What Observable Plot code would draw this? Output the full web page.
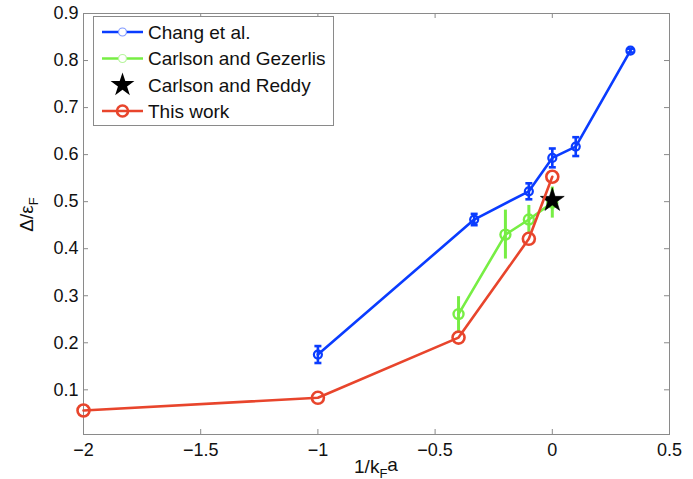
<!DOCTYPE html>
<html><head><meta charset="utf-8">
<script src="https://cdn.jsdelivr.net/npm/d3@7"></script>
<script src="https://cdn.jsdelivr.net/npm/@observablehq/plot@0.6"></script>
<style>
html,body{margin:0;padding:0;background:#fff}
svg{font-family:"Liberation Sans",Arial,Helvetica,sans-serif}
</style>
</head><body><div id="chart"></div>
<script>
// ---- data ----
const changX = [-1, -1/3, -0.1, 0, 0.1, 1/3];
const changY = [0.175, 0.462, 0.522, 0.593, 0.617, 0.821];
const changErr = [0.018, 0.012, 0.017, 0.02, 0.02, 0.004];
const gezX = [-0.4, -0.2, -0.1, 0];
const gezY = [0.261, 0.430, 0.462, 0.498];
const gezErr = [0.037, 0.052, 0.03, 0.033];
const reddyX = [0];
const reddyY = [0.503];
const workX = [-2, -1, -0.4, -0.1, 0];
const workY = [0.056, 0.083, 0.211, 0.421, 0.553];
const xTicks = [-2, -1.5, -1, -0.5, 0, 0.5];
const yTicks = [0.1, 0.2, 0.3, 0.4, 0.5, 0.6, 0.7, 0.8, 0.9];
const seriesNames = ["Chang et al.", "Carlson and Gezerlis", "Carlson and Reddy", "This work"];
const seriesColors = ["#0a3cff", "#77ee44", "#000000", "#e8452c"];

const chang = changX.map((x, i) => ({x, y: changY[i], e: changErr[i]}));
const gez = gezX.map((x, i) => ({x, y: gezY[i], e: gezErr[i]}));
const reddy = reddyX.map((x, i) => ({x, y: reddyY[i]}));
const work = workX.map((x, i) => ({x, y: workY[i]}));

const W = 693, H = 479, mL = 83, mR = 24, mT = 13, mB = 45;
const pw = W - mL - mR, ph = H - mT - mB;
const axisColor = "#8a8a8a";
const tickLen = 5;

const cap = {draw(context, size) { const r = Math.sqrt(size / Math.PI); context.moveTo(-r, 0); context.lineTo(r, 0); }};

const [cBlue, cGreen, cBlack, cRed] = seriesColors;

const chart = Plot.plot({
  width: W, height: H,
  marginLeft: mL, marginRight: mR, marginTop: mT, marginBottom: mB,
  style: {fontFamily: '"Liberation Sans", Arial, sans-serif', fontSize: "18px", color: "#111", background: "#fff", overflow: "visible"},
  x: {domain: [-2, 0.5], ticks: xTicks, tickSize: 0, tickPadding: 9, label: null, tickFormat: d3.format("")},
  y: {domain: [0.005, 0.9], ticks: yTicks, tickSize: 0, tickPadding: 5, label: null, tickFormat: d3.format(".1f")},
  marks: [
    Plot.frame({stroke: axisColor}),
    Plot.ruleX(xTicks, {x: d => d, insetTop: ph - tickLen, stroke: axisColor}),
    Plot.ruleX(xTicks, {x: d => d, insetBottom: ph - tickLen, stroke: axisColor}),
    Plot.ruleY(yTicks, {y: d => d, insetRight: pw - tickLen, stroke: axisColor}),
    Plot.ruleY(yTicks, {y: d => d, insetLeft: pw - tickLen, stroke: axisColor}),
    // Chang et al.
    Plot.line(chang, {x: "x", y: "y", stroke: cBlue, strokeWidth: 2.6}),
    Plot.ruleX(chang, {x: "x", y1: d => d.y - d.e, y2: d => d.y + d.e, stroke: cBlue, strokeWidth: 2.6}),
    Plot.dot(chang, {x: "x", y: d => d.y + d.e, symbol: cap, r: 3.5, stroke: cBlue, strokeWidth: 2.6}),
    Plot.dot(chang, {x: "x", y: d => d.y - d.e, symbol: cap, r: 3.5, stroke: cBlue, strokeWidth: 2.6}),
    Plot.dot(chang, {x: "x", y: "y", r: 4, stroke: cBlue, strokeWidth: 2.2, fill: "none"}),
    // Carlson and Gezerlis
    Plot.line(gez, {x: "x", y: "y", stroke: cGreen, strokeWidth: 2.6}),
    Plot.ruleX(gez, {x: "x", y1: d => d.y - d.e, y2: d => d.y + d.e, stroke: cGreen, strokeWidth: 3}),
    Plot.dot(gez, {x: "x", y: "y", r: 5, stroke: cGreen, strokeWidth: 2.4, fill: "none"}),
    // Carlson and Reddy
    Plot.dot(reddy, {x: "x", y: "y", symbol: "star", r: 7.5, fill: cBlack, stroke: cBlack, strokeWidth: 0.6}),
    // This work
    Plot.line(work, {x: "x", y: "y", stroke: cRed, strokeWidth: 2.6}),
    Plot.dot(work, {x: "x", y: "y", r: 6, stroke: cRed, strokeWidth: 2.6, fill: "none"})
  ]
});
document.getElementById("chart").appendChild(chart);

const svg = d3.select(chart);
// axis labels
const xl = svg.append("text").attr("x", mL + pw / 2).attr("y", 473).attr("text-anchor", "middle")
  .attr("font-size", 19).attr("fill", "#111");
xl.append("tspan").text("1/k");
xl.append("tspan").attr("dy", "0.35em").attr("font-size", 13).text("F");
xl.append("tspan").attr("dy", "-0.35em").text("a");

const yl = svg.append("text").attr("transform", `translate(33,${mT + ph / 2 - 9}) rotate(-90)`)
  .attr("text-anchor", "middle").attr("font-size", 19).attr("fill", "#111");
yl.append("tspan").text("Δ/ε");
yl.append("tspan").attr("dy", "0.35em").attr("font-size", 13).text("F");

// legend
const lg = svg.append("g").attr("text-anchor", "start");
lg.append("rect").attr("x", 93.5).attr("y", 16.5).attr("width", 240).attr("height", 109)
  .attr("fill", "#fff").attr("stroke", axisColor);
const rowY = [32, 58.5, 85, 111];
const lightColors = ["#7f98ff", "#b6f59c", "#000", cRed];
seriesNames.forEach((name, i) => {
  const y = rowY[i];
  if (i !== 2) {
    lg.append("line").attr("x1", 102).attr("x2", 143).attr("y1", y).attr("y2", y)
      .attr("stroke", seriesColors[i]).attr("stroke-width", 2.6);
  }
  if (i < 2) {
    lg.append("circle").attr("cx", 122.5).attr("cy", y).attr("r", 4).attr("fill", "#fff")
      .attr("stroke", lightColors[i]).attr("stroke-width", 1.2);
  } else if (i === 2) {
    lg.append("path").attr("d", d3.symbol(d3.symbolStar, Math.PI * 7.5 * 7.5)()).attr("transform", `translate(122.5,${y})`)
      .attr("fill", "#000");
  } else {
    lg.append("circle").attr("cx", 122.5).attr("cy", y).attr("r", 5.5).attr("fill", "none")
      .attr("stroke", cRed).attr("stroke-width", 2.6);
  }
  lg.append("text").attr("x", 148).attr("y", y).attr("dy", "0.35em").attr("font-size", 19)
    .attr("text-anchor", "start").attr("fill", "#111").text(name);
});
</script>
</body></html>
